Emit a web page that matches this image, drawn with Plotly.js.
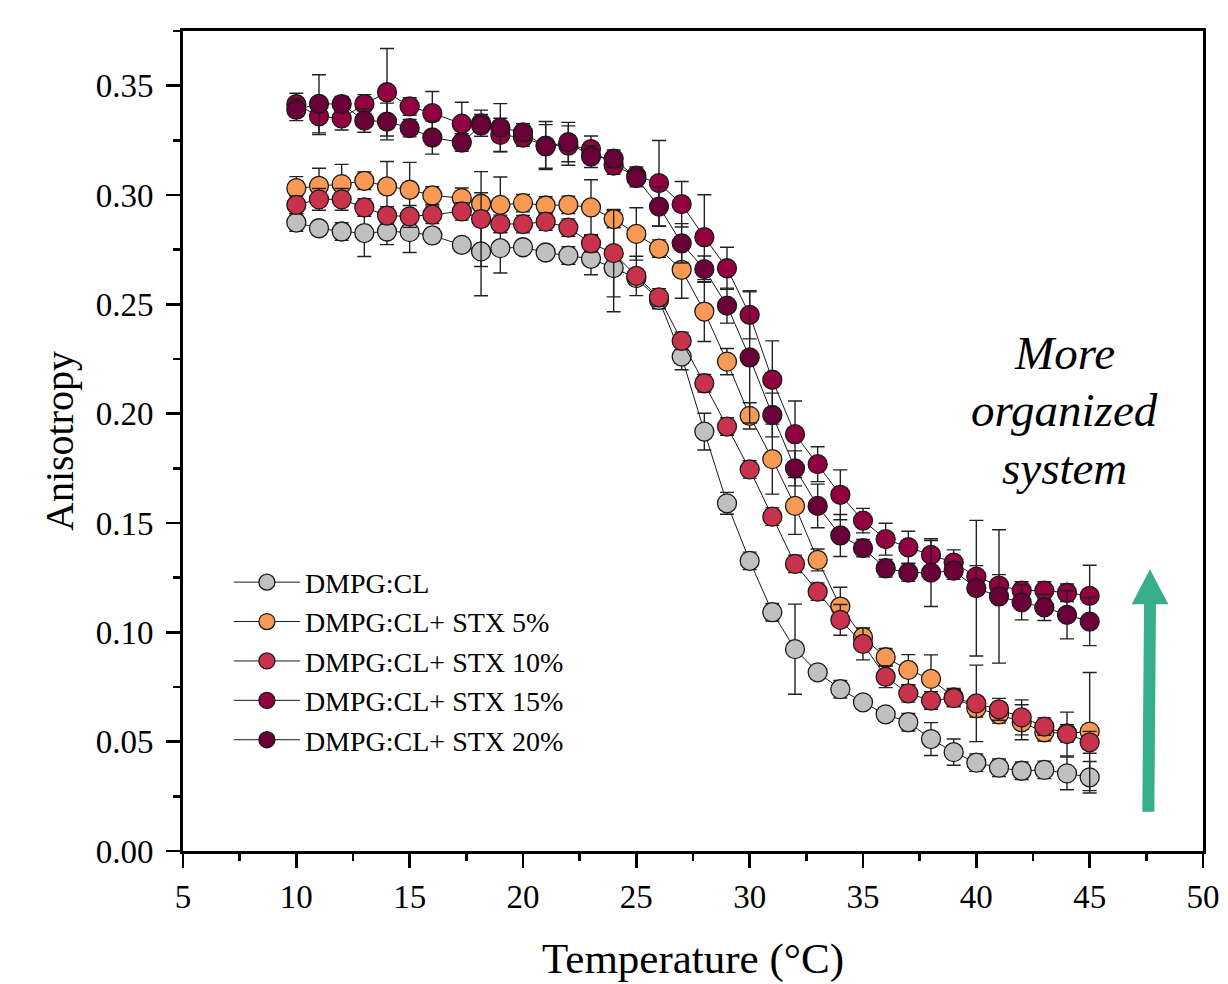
<!DOCTYPE html>
<html>
<head>
<meta charset="utf-8">
<script src="https://cdn.plot.ly/plotly-3.0.1.min.js"></script>
<style>
html,body{margin:0;padding:0;background:#fff;}
#chart{width:1228px;height:984px;}
</style>
</head>
<body>
<div id="chart"></div>
<script>
// Temperature (°C)
const temperature = [10,11,12,13,14,15,16,17.3,18.15,19,20,21,22,23,24,25,26,27,28,29,30,31,32,33,34,35,36,37,38,39,40,41,42,43,44,45];

const seriesNames = ["DMPG:CL","DMPG:CL+ STX 5%","DMPG:CL+ STX 10%","DMPG:CL+ STX 15%","DMPG:CL+ STX 20%"];

const aniso0 = [0.2874,0.2848,0.2833,0.2826,0.2833,0.2830,0.2815,0.2772,0.2742,0.2757,0.2761,0.2737,0.2723,0.2708,0.2666,0.2620,0.2520,0.2261,0.1918,0.1590,0.1327,0.1092,0.0923,0.0817,0.0740,0.0680,0.0625,0.0589,0.0512,0.0452,0.0404,0.0381,0.0367,0.0371,0.0355,0.0337];
const err0   = [0.004,0.003,0.004,0.0107,0.006,0.0093,0.003,0.003,0.0203,0.0114,0.003,0.003,0.004,0.0073,0.020,0.003,0.004,0.006,0.0084,0.005,0.004,0.004,0.0206,0.003,0.004,0.003,0.003,0.004,0.0075,0.006,0.004,0.004,0.004,0.004,0.0075,0.0072];

const aniso5 = [0.3031,0.3042,0.3050,0.3065,0.3039,0.3024,0.2998,0.2986,0.2960,0.2955,0.2963,0.2952,0.2955,0.2943,0.2890,0.2822,0.2755,0.2658,0.2467,0.2238,0.1990,0.1792,0.1578,0.1331,0.1118,0.0978,0.0886,0.0828,0.0787,0.0703,0.0653,0.0625,0.0589,0.0543,0.0538,0.0546];
const err5   = [0.0053,0.008,0.009,0.004,0.0114,0.0125,0.004,0.0046,0.005,0.0127,0.004,0.004,0.004,0.0127,0.004,0.012,0.004,0.013,0.0137,0.006,0.006,0.016,0.013,0.005,0.0088,0.004,0.004,0.007,0.011,0.004,0.004,0.004,0.008,0.004,0.004,0.027];

const aniso10 = [0.2955,0.2980,0.2980,0.2943,0.2906,0.2902,0.2910,0.2925,0.2890,0.2868,0.2867,0.2878,0.2851,0.2779,0.2734,0.2630,0.2532,0.2333,0.2139,0.1941,0.1745,0.1529,0.1313,0.1186,0.1057,0.0947,0.0797,0.0721,0.0688,0.0699,0.0675,0.0648,0.0611,0.0569,0.0535,0.0497];
const err10   = [0.004,0.005,0.005,0.004,0.004,0.005,0.004,0.004,0.0217,0.004,0.004,0.004,0.004,0.004,0.020,0.009,0.004,0.004,0.004,0.004,0.004,0.004,0.004,0.004,0.007,0.0073,0.005,0.004,0.004,0.004,0.0175,0.005,0.008,0.004,0.010,0.005];

const aniso15 = [0.3415,0.3360,0.3350,0.3416,0.3470,0.3405,0.3374,0.3326,0.3328,0.3275,0.3263,0.3226,0.3226,0.3210,0.3135,0.3088,0.3054,0.2958,0.2807,0.2665,0.2452,0.2155,0.1906,0.1769,0.1629,0.1511,0.1426,0.1389,0.1354,0.1319,0.1255,0.1214,0.1191,0.1191,0.1181,0.1167];
const err15   = [0.005,0.0084,0.0053,0.0043,0.020,0.004,0.0099,0.0098,0.006,0.0076,0.004,0.011,0.009,0.006,0.004,0.004,0.0195,0.0104,0.0194,0.0096,0.011,0.0178,0.0152,0.008,0.0114,0.0056,0.0073,0.0073,0.0066,0.0058,0.005,0.005,0.004,0.004,0.004,0.014];

const aniso20 = [0.3390,0.3417,0.3416,0.3340,0.3336,0.3306,0.3263,0.3240,0.3318,0.3308,0.3286,0.3222,0.3242,0.3176,0.3166,0.3077,0.2947,0.2779,0.2661,0.2494,0.2257,0.1994,0.1750,0.1578,0.1443,0.1385,0.1293,0.1273,0.1273,0.1282,0.1202,0.1164,0.1137,0.1114,0.1080,0.1049];
const err20   = [0.005,0.0133,0.0035,0.0053,0.0084,0.004,0.0076,0.004,0.005,0.011,0.004,0.010,0.009,0.005,0.004,0.004,0.009,0.009,0.006,0.008,0.030,0.010,0.008,0.010,0.0096,0.004,0.004,0.004,0.0155,0.004,0.031,0.0305,0.008,0.006,0.011,0.011];

const annotationLines = ["More", "organized", "system"];

const colors = ["#C0C0C0","#F89A54","#C8324B","#930040","#6A0038"];
const values = [aniso0, aniso5, aniso10, aniso15, aniso20];
const errors = [err0, err5, err10, err15, err20];

const FONT = "Liberation Serif, Times New Roman, serif";

const traces = values.map((v, i) => ({
  type: "scatter",
  mode: "lines+markers",
  name: seriesNames[i],
  x: temperature,
  y: v,
  line: {color: "#1a1a1a", width: 1},
  marker: {symbol: "circle", size: 19, color: colors[i], line: {color: "#1a1a1a", width: 1.3}},
  error_y: {type: "data", array: errors[i], visible: true, color: "#222222", thickness: 1.4, width: 7}
}));

const annoY = [0.6073, 0.5378, 0.4671];

const layout = {
  width: 1228,
  height: 984,
  paper_bgcolor: "#ffffff",
  plot_bgcolor: "#ffffff",
  margin: {l: 183, r: 25, t: 31, b: 133},
  font: {family: FONT, color: "#000000", size: 30},
  showlegend: true,
  legend: {
    x: 0.045, y: 0.358, xanchor: "left", yanchor: "top",
    bgcolor: "rgba(0,0,0,0)",
    font: {family: FONT, size: 28, color: "#000"},
    itemwidth: 66,
    tracegroupgap: 0
  },
  xaxis: {
    range: [5, 50],
    tickmode: "linear", tick0: 5, dtick: 5,
    ticks: "outside", ticklen: 14, tickwidth: 2.5, tickcolor: "#000",
    minor: {ticks: "outside", ticklen: 7, tickwidth: 2.5, dtick: 2.5, tick0: 5, tickcolor: "#000"},
    showline: true, linewidth: 3, linecolor: "#000", mirror: true,
    showgrid: false, zeroline: false,
    tickfont: {family: FONT, size: 33, color: "#000"},
    title: {text: "Temperature (°C)", font: {family: FONT, size: 43, color: "#000"}, standoff: 30}
  },
  yaxis: {
    range: [0, 0.375],
    tickmode: "linear", tick0: 0, dtick: 0.05, tickformat: ".2f",
    ticks: "outside", ticklen: 14, tickwidth: 2.5, tickcolor: "#000",
    ticklabelstandoff: 6,
    minor: {ticks: "outside", ticklen: 7, tickwidth: 2.5, dtick: 0.025, tick0: 0, tickcolor: "#000"},
    showline: true, linewidth: 3, linecolor: "#000", mirror: true,
    showgrid: false, zeroline: false,
    tickfont: {family: FONT, size: 33, color: "#000"},
    title: {text: "Anisotropy", font: {family: FONT, size: 40, color: "#000"}, standoff: 10}
  },
  annotations: annotationLines.map((t, i) => ({
    xref: "paper", yref: "paper",
    x: 0.8647, y: annoY[i], xanchor: "center", yanchor: "middle",
    text: "<i>" + t + "</i>",
    showarrow: false,
    font: {family: FONT, size: 47, color: "#000"}
  })),
  shapes: [{
    type: "path", xref: "paper", yref: "paper",
    path: "M 0.9405,0.0479 L 0.9523,0.0479 L 0.9539,0.3009 L 0.9660,0.3009 L 0.9480,0.3435 L 0.9301,0.3009 L 0.9422,0.3009 Z",
    fillcolor: "#37AE8A", line: {width: 0}
  }]
};

Plotly.newPlot("chart", traces, layout, {staticPlot: true, displayModeBar: false});
</script>
</body>
</html>
